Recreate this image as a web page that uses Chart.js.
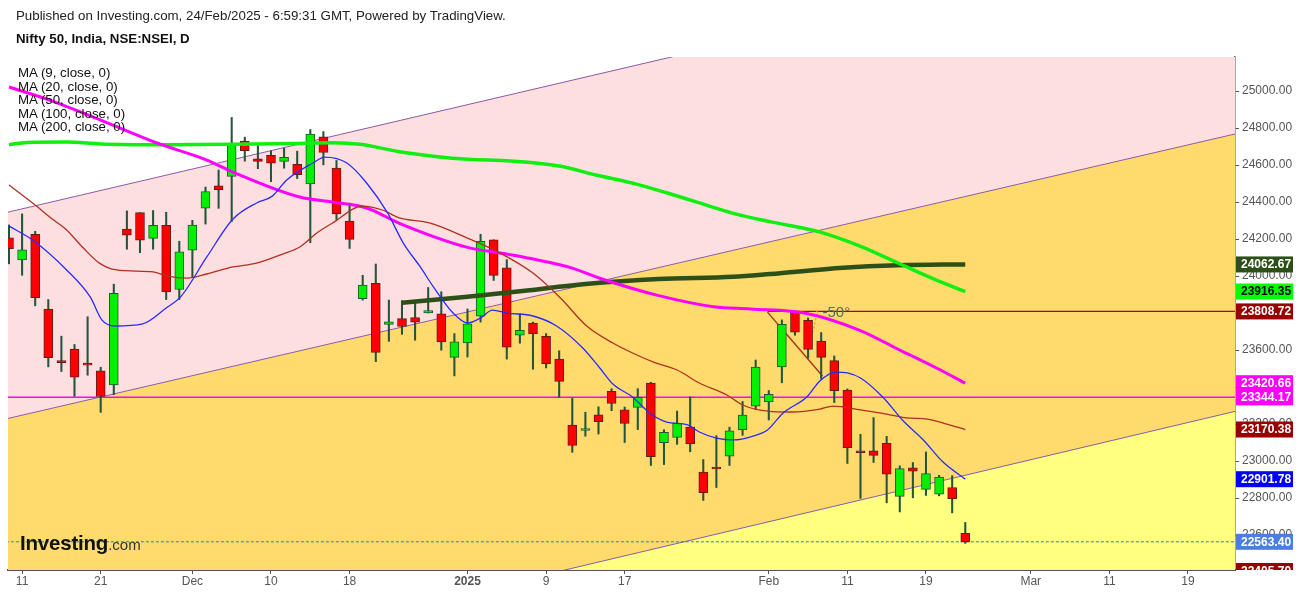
<!DOCTYPE html>
<html>
<head>
<meta charset="utf-8">
<script src="https://cdn.jsdelivr.net/npm/chart.js@4.4.1/dist/chart.umd.min.js"></script>
<style>
  body { margin: 0; background: #fff; font-family: 'Liberation Sans', Arial, sans-serif; }
  #wrap { position: relative; width: 1299px; height: 594px; overflow: hidden; }
  .txt { position: absolute; white-space: nowrap; color: #222; }
  #pub { left: 16px; top: 8px; font-size: 13.3px; line-height: 16px; }
  #title { left: 16px; top: 31px; font-size: 13.3px; line-height: 16px; font-weight: bold; color: #111; }
  #legend { left: 18px; top: 66px; font-size: 13.3px; line-height: 13.6px; color: #111; }
  #logo { left: 20px; top: 533px; font-size: 20.5px; line-height: 20px; font-weight: bold; color: #111; letter-spacing: -0.2px; }
  #logo span { font-size: 15px; font-weight: normal; color: #333; letter-spacing: 0; }
</style>
</head>
<body>
<div id="wrap">
  <canvas id="chart"></canvas>
  <div class="txt" id="pub">Published on Investing.com, 24/Feb/2025 - 6:59:31 GMT, Powered by TradingView.</div>
  <div class="txt" id="title">Nifty 50, India, NSE:NSEI, D</div>
  <div class="txt" id="legend">MA (9, close, 0)<br>MA (20, close, 0)<br>MA (50, close, 0)<br>MA (100, close, 0)<br>MA (200, close, 0)</div>
  <div class="txt" id="logo">Investing<span>.com</span></div>
</div>
<script>
// trading days shown (x = position in this list)
const days = [
  'Nov 8', 'Nov 11', 'Nov 12', 'Nov 13', 'Nov 14', 'Nov 18', 'Nov 19', 'Nov 21', 'Nov 22', 'Nov 25',
  'Nov 26', 'Nov 27', 'Nov 28', 'Nov 29', 'Dec 2', 'Dec 3', 'Dec 4', 'Dec 5', 'Dec 6', 'Dec 9',
  'Dec 10', 'Dec 11', 'Dec 12', 'Dec 13', 'Dec 16', 'Dec 17', 'Dec 18', 'Dec 19', 'Dec 20', 'Dec 23',
  'Dec 24', 'Dec 26', 'Dec 27', 'Dec 30', 'Dec 31', 'Jan 1', 'Jan 2', 'Jan 3', 'Jan 6', 'Jan 7',
  'Jan 8', 'Jan 9', 'Jan 10', 'Jan 13', 'Jan 14', 'Jan 15', 'Jan 16', 'Jan 17', 'Jan 20', 'Jan 21',
  'Jan 22', 'Jan 23', 'Jan 24', 'Jan 27', 'Jan 28', 'Jan 29', 'Jan 30', 'Jan 31', 'Feb 3', 'Feb 4',
  'Feb 5', 'Feb 6', 'Feb 7', 'Feb 10', 'Feb 11', 'Feb 12', 'Feb 13', 'Feb 14', 'Feb 17', 'Feb 18',
  'Feb 19', 'Feb 20', 'Feb 21', 'Feb 24'
];

const open = [
  24207, 24087, 24225, 23822, 23542, 23605, 23529, 23488, 23411, 24254,
  24343, 24204, 24274, 23927, 24140, 24367, 24488, 24539, 24729, 24633,
  24652, 24620, 24604, 24498, 24753, 24584, 24297, 23877, 23960, 23738,
  23770, 23775, 23801, 23796, 23560, 23638, 23783, 24196, 24045, 23680,
  23746, 23674, 23551, 23195, 23165, 23250, 23377, 23277, 23290, 23421,
  23099, 23128, 23183, 22940, 22960, 23026, 23169, 23296, 23319, 23509,
  23802, 23761, 23649, 23543, 23383, 23050, 23055, 23096, 22809, 22963,
  22847, 22821, 22857, 22609
];
const high = [
  24276, 24336, 24242, 23873, 23675, 23630, 23780, 23507, 23956, 24352,
  24343, 24354, 24345, 24188, 24301, 24481, 24573, 24857, 24751, 24705,
  24677, 24691, 24675, 24792, 24781, 24625, 24394, 24004, 24065, 23870,
  23867, 23854, 23938, 23915, 23689, 23822, 24226, 24196, 24089, 23795,
  23751, 23689, 23596, 23340, 23264, 23293, 23391, 23292, 23391, 23426,
  23169, 23270, 23347, 23008, 23137, 23183, 23322, 23546, 23381, 23763,
  23807, 23773, 23694, 23568, 23390, 23144, 23235, 23133, 22974, 22992,
  23049, 22923, 22921, 22668
];
const low = [
  24066, 24004, 23839, 23509, 23484, 23350, 23464, 23263, 23359, 24145,
  24126, 24145, 23873, 23873, 23995, 24281, 24366, 24295, 24621, 24580,
  24510, 24583, 24527, 24180, 24601, 24303, 24149, 23870, 23537, 23647,
  23685, 23653, 23800, 23599, 23460, 23562, 23751, 23976, 23551, 23637,
  23496, 23503, 23344, 23047, 23134, 23146, 23272, 23100, 23170, 22976,
  22981, 23090, 23050, 22787, 22857, 22976, 23139, 23277, 23222, 23423,
  23680, 23556, 23443, 23316, 22987, 22798, 22992, 22774, 22725, 22801,
  22814, 22812, 22720, 22555
];
const close = [
  24148, 24141, 23883, 23559, 23532, 23453, 23518, 23349, 23907, 24221,
  24194, 24274, 23914, 24131, 24276, 24457, 24467, 24708, 24677, 24619,
  24610, 24641, 24548, 24768, 24668, 24336, 24198, 23951, 23587, 23753,
  23727, 23750, 23813, 23644, 23644, 23742, 24188, 24004, 23616, 23707,
  23688, 23526, 23431, 23085, 23176, 23213, 23311, 23203, 23344, 23024,
  23155, 23205, 23092, 22829, 22957, 23163, 23249, 23508, 23361, 23739,
  23696, 23603, 23560, 23381, 23072, 23045, 23031, 22929, 22959, 22945,
  22932, 22913, 22796, 22563.4
];

// moving averages: [day position, value]
const ma9 = [
  [0, 24270], [1.8, 24195], [4.4, 24033], [6.2, 23887], [7.1, 23762], [8.1, 23730], [10.2, 23741],
  [12, 23827], [13.1, 23887], [15.1, 24103], [17.1, 24308], [18.9, 24395], [20.1, 24432], [21.2, 24519],
  [23.2, 24611], [24.1, 24643], [25.8, 24611], [27.3, 24503], [28.9, 24341], [30.1, 24178], [31.4, 24049],
  [32.4, 23941], [33.9, 23800], [35, 23746], [36, 23773], [36.9, 23816], [38, 23800], [40, 23784],
  [41.8, 23730], [43.8, 23611], [45.1, 23503], [46.1, 23416], [47.6, 23346], [48.9, 23260], [50.2, 23211],
  [51.8, 23195], [52.7, 23157], [54, 23124], [55.3, 23114], [56.8, 23135], [57.9, 23168], [59.1, 23260],
  [60.9, 23346], [61.9, 23433], [63.1, 23481], [64, 23476], [65, 23449], [66.7, 23346], [68.2, 23222],
  [69.8, 23114], [71.3, 22995], [73, 22902]
];
const ma20 = [
  [0, 24492], [2.1, 24378], [3.1, 24319], [4.4, 24249], [5.6, 24157], [6.9, 24070], [8.2, 24033],
  [11, 24022], [12.1, 24000], [13.6, 23989], [15.1, 24011], [17.1, 24049], [18.9, 24070], [20.9, 24119],
  [22.2, 24157], [23.5, 24233], [24.7, 24287], [27, 24378], [28.5, 24357], [29.8, 24314], [32.1, 24287],
  [35, 24205], [37.5, 24124], [40, 24016], [42.1, 23881], [44.1, 23730], [46.1, 23638], [47.6, 23584],
  [49.2, 23535], [51, 23492], [52.7, 23422], [54.8, 23357], [56, 23303], [57.9, 23270], [59.8, 23265],
  [61.9, 23281], [62.9, 23297], [65, 23276], [67, 23254], [68.5, 23233], [70.1, 23227], [71.6, 23200],
  [73, 23170]
];
const ma50 = [
  [0, 25022], [3.1, 24951], [7, 24843], [11.3, 24719], [15.1, 24627], [17.1, 24562], [22.2, 24427],
  [24.7, 24400], [27.3, 24368], [29.8, 24285], [35, 24155], [37.5, 24124], [39.7, 24096], [43, 24043],
  [45.1, 23988], [49.6, 23894], [53.8, 23834], [56.6, 23822], [60.9, 23798], [64.9, 23708], [68, 23600],
  [70.8, 23503], [73, 23421]
];
const ma100 = [
  [0, 24710], [1.4, 24722], [4.4, 24724], [7, 24714], [12, 24710], [17, 24712], [22.2, 24717],
  [24.7, 24721], [26.8, 24712], [29.8, 24672], [32.7, 24645], [35, 24631], [38.3, 24622], [42, 24595],
  [44.8, 24546], [47.9, 24497], [50.2, 24450], [52.4, 24402], [55.3, 24339], [58.1, 24294], [61.8, 24240],
  [65.1, 24158], [67.9, 24069], [70.8, 23978], [73, 23916]
];
const ma200 = [
  [30, 23855], [35, 23888], [39.2, 23919], [44, 23957], [49.6, 23984], [55.3, 23996], [58.1, 24011],
  [63.7, 24045], [67.9, 24058], [73, 24063]
];

// drawings
const channelTop = [[-1, 24330], [95, 25920]];
const channelMid = [[-1, 23215], [95, 24791]];
const channelLow = [[-1, 21683], [95, 23292]];
const levelMagenta = [[-1, 23344.17], [95, 23344.17]];
const levelRed = [[57.9, 23808.72], [95, 23808.72]];
const lastPrice = [[-1, 22563.4], [95, 22563.4]];
const trendLine = [[57.9, 23805], [62.1, 23460]];
const angleArc = [[61.7, 23813], [61.4, 23709], [60.5, 23618]];
const angleNote = { text: '-50°', at: [62.1, 23803] };

// x axis
const tickIdx = [1, 7, 14, 20, 26, 35, 41, 47, 58, 64, 70, 78, 84, 90];
const tickText = ['11', '21', 'Dec', '10', '18', '2025', '9', '17', 'Feb', '11', '19', 'Mar', '11', '19'];
const yTicks = [22600, 22800, 23000, 23200, 23400, 23600, 23800, 24000, 24200, 24400, 24600, 24800, 25000];

// price tags on the right axis
const priceTags = [
  { v: 24062.67, bg: '#2d5018', fg: '#fff' },
  { v: 23916.35, bg: '#00ff00', fg: '#000' },
  { v: 23808.72, bg: '#990000', fg: '#fff' },
  { v: 23420.66, bg: '#ff00ff', fg: '#fff' },
  { v: 23344.17, bg: '#ff00ff', fg: '#fff' },
  { v: 23170.38, bg: '#990000', fg: '#fff' },
  { v: 22901.78, bg: '#0000ff', fg: '#fff' },
  { v: 22563.40, bg: '#4a7fe0', fg: '#fff' },
  { v: 22405.70, bg: '#990000', fg: '#fff' }
];

const FONT = "'Liberation Sans', Arial, sans-serif";
const pts = arr => arr.map(p => ({ x: p[0], y: p[1] }));

const isUp = close.map((c, i) => c >= open[i]);

function lineSet(data, color, width, order, extra) {
  return Object.assign({
    type: 'line',
    data: pts(data),
    borderColor: color,
    borderWidth: width,
    pointRadius: 0,
    fill: false,
    cubicInterpolationMode: 'monotone',
    order: order
  }, extra || {});
}

const datasets = [
  // 0..2 channel with bands
  lineSet(channelTop, '#8a5aa8', 1, 20, { fill: { target: 1 }, backgroundColor: '#fddfdf' }),
  lineSet(channelMid, '#8a5aa8', 1, 19, { fill: { target: 2 }, backgroundColor: '#ffdb6e' }),
  lineSet(channelLow, '#8a5aa8', 1, 18, { fill: 'start', backgroundColor: '#ffff80' }),
  lineSet(levelMagenta, '#ff00ff', 1.5, 15),
  lineSet(levelRed, '#b00000', 1.2, 15),
  lineSet(lastPrice, '#3a6fd8', 1, 15, { borderDash: [3, 2] }),
  lineSet(trendLine, '#a8341c', 1.4, 14),
  lineSet(angleArc, '#e89a40', 1.4, 14, { borderDash: [2, 2] }),
  {
    type: 'bar',
    data: days.map((d, i) => ({ x: i, y: [low[i], high[i]] })),
    backgroundColor: '#24543a',
    borderWidth: 0,
    barThickness: 1.4,
    grouped: false,
    order: 8
  },
  {
    type: 'bar',
    data: days.map((d, i) => ({ x: i, y: [open[i], close[i]] })),
    backgroundColor: isUp.map(u => u ? '#00f000' : '#ff0000'),
    borderColor: isUp.map(u => u ? '#1e5a30' : '#6a1a1a'),
    borderWidth: 1,
    borderSkipped: false,
    minBarLength: 2,
    barThickness: 9,
    grouped: false,
    order: 7
  },
  lineSet(ma200, '#2d5018', 4.5, 5),
  lineSet(ma100, '#11ee11', 3.5, 4),
  lineSet(ma50, '#ff00ff', 3, 3),
  lineSet(ma20, '#b03020', 1.3, 2),
  lineSet(ma9, '#2a2aff', 1.3, 1)
];

const overlay = {
  id: 'overlay',
  afterDraw(chart) {
    const { ctx, chartArea: a, scales: { x, y } } = chart;
    ctx.save();
    ctx.font = '15px ' + FONT;
    ctx.fillStyle = '#4d6e68';
    ctx.textBaseline = 'middle';
    ctx.fillText(angleNote.text, x.getPixelForValue(angleNote.at[0]), y.getPixelForValue(angleNote.at[1]));

    ctx.beginPath();
    ctx.rect(a.right + 1, 0, chart.width - a.right, a.bottom);
    ctx.clip();
    ctx.font = 'bold 12px ' + FONT;
    priceTags.forEach(t => {
      const py = y.getPixelForValue(t.v);
      ctx.fillStyle = t.bg;
      ctx.fillRect(a.right + 1, py - 8, 57, 16);
      ctx.fillStyle = t.fg;
      ctx.fillText(t.v.toFixed(2), a.right + 6, py + 0.5);
    });
    ctx.restore();
  }
};

new Chart(document.getElementById('chart'), {
  type: 'bar',
  data: { datasets: datasets },
  plugins: [overlay],
  options: {
    responsive: true,
    maintainAspectRatio: false,
    animation: false,
    events: [],
    layout: { padding: { top: 57, left: 8, right: 0, bottom: 0 } },
    plugins: {
      legend: { display: false },
      tooltip: { enabled: false },
      filler: { propagate: false }
    },
    scales: {
      x: {
        type: 'linear',
        min: -0.076,
        max: 93.59,
        offset: false,
        afterBuildTicks: s => { s.ticks = tickIdx.map(v => ({ value: v })); },
        afterFit: s => { s.height = 24; },
        grid: { drawOnChartArea: false, drawTicks: true, tickLength: 4, color: '#555', offset: false },
        border: { display: true, color: '#555', width: 2 },
        ticks: {
          autoSkip: false,
          maxRotation: 0,
          padding: 0,
          color: '#555',
          font: ctx => ({ family: FONT, size: 12, weight: ctx.tick && ctx.tick.value === 35 ? 'bold' : 'normal' }),
          callback: (v, i) => tickText[i]
        }
      },
      y: {
        type: 'linear',
        position: 'right',
        min: 22411,
        max: 25184,
        afterBuildTicks: s => { s.ticks = yTicks.map(v => ({ value: v })); },
        afterFit: s => { s.width = 64; },
        grid: { drawOnChartArea: false, drawTicks: true, tickLength: 4, color: '#555' },
        border: { display: true, color: '#555', width: 1.5 },
        ticks: {
          padding: 3,
          color: '#555',
          font: { family: FONT, size: 12 },
          callback: v => Number(v).toFixed(2)
        }
      }
    }
  }
});
</script>
</body>
</html>
